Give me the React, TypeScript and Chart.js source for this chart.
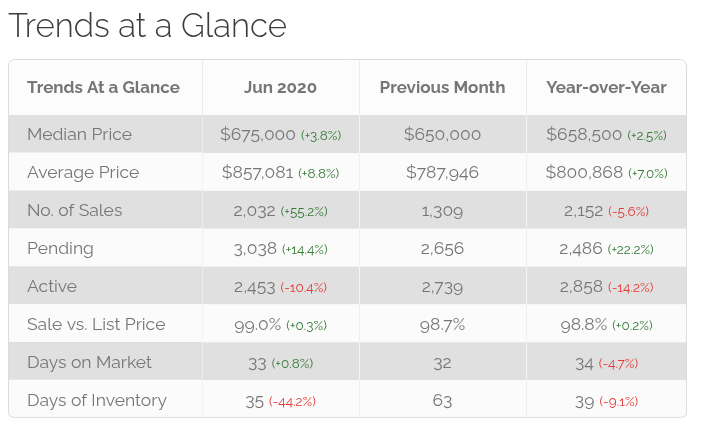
import React, { useEffect, useRef } from 'react';
import { Chart, registerables } from 'chart.js';

Chart.register(...registerables);

// ---- data ----
const titleText = 'Trends at a Glance';
const headerLabel = 'Trends At a Glance';
const columnLabels = ['Jun 2020', 'Previous Month', 'Year-over-Year'];
const rowLabels = [
  'Median Price',
  'Average Price',
  'No. of Sales',
  'Pending',
  'Active',
  'Sale vs. List Price',
  'Days on Market',
  'Days of Inventory',
];
const junValues = ['$675,000', '$857,081', '2,032', '3,038', '2,453', '99.0%', '33', '35'];
const junChanges = ['+3.8%', '+8.8%', '+55.2%', '+14.4%', '-10.4%', '+0.3%', '+0.8%', '-44.2%'];
const prevValues = ['$650,000', '$787,946', '1,309', '2,656', '2,739', '98.7%', '32', '63'];
const yoyValues = ['$658,500', '$800,868', '2,152', '2,486', '2,858', '98.8%', '34', '39'];
const yoyChanges = ['+2.5%', '+7.0%', '-5.6%', '+22.2%', '-14.2%', '+0.2%', '-4.7%', '-9.1%'];

// ---- layout / style ----
const COL_WIDTHS = [194, 157, 167, 161];
const FONT = "Raleway, Lato, 'Open Sans', sans-serif";
const TEXT = '#767676';
const GREEN = '#357a35';
const RED = '#e53935';
const ROW_DARK = '#e0e0e0';
const ROW_LIGHT = '#fbfbfb';
const BOX_TOP = 51;
const CANVAS_W = 687;
const CANVAS_H = 421;
const VAL_SIZE = 17.5;
const CHG_SIZE = 13.5;
const TITLE_SIZE = 33;

const columnValues = [null, junValues, prevValues, yoyValues];
const columnChanges = [null, junChanges, null, yoyChanges];

function roundRect(ctx: CanvasRenderingContext2D, x: number, y: number, w: number, h: number, r: number) {
  ctx.beginPath();
  ctx.moveTo(x + r, y);
  ctx.lineTo(x + w - r, y);
  ctx.arcTo(x + w, y, x + w, y + r, r);
  ctx.lineTo(x + w, y + h - r);
  ctx.arcTo(x + w, y + h, x + w - r, y + h, r);
  ctx.lineTo(x + r, y + h);
  ctx.arcTo(x, y + h, x, y + h - r, r);
  ctx.lineTo(x, y + r);
  ctx.arcTo(x, y, x + r, y, r);
  ctx.closePath();
}

const tablePlugin = {
  id: 'tablePlugin',
  beforeDatasetsDraw(chart: any) {
    const { ctx, chartArea } = chart;
    ctx.save();
    roundRect(ctx, chartArea.left + 0.5, BOX_TOP + 0.5, chartArea.right - chartArea.left - 1, chartArea.bottom - BOX_TOP - 1, 6);
    ctx.fillStyle = '#fcfcfc';
    ctx.fill();
    ctx.restore();
  },
  afterDatasetsDraw(chart: any) {
    const { ctx, chartArea, scales } = chart;
    const xs = scales.x;
    ctx.save();
    // header row
    let acc = 0;
    const bounds: number[] = [xs.getPixelForValue(0)];
    COL_WIDTHS.forEach((w) => {
      acc += w;
      bounds.push(xs.getPixelForValue(acc));
    });
    ctx.fillStyle = '#ececec';
    for (let j = 1; j < COL_WIDTHS.length; j++) {
      ctx.fillRect(Math.round(bounds[j]), BOX_TOP + 1, 1, chartArea.top - BOX_TOP - 1);
    }
    const headerMid = (BOX_TOP + chartArea.top) / 2;
    ctx.fillStyle = TEXT;
    ctx.font = `700 17px ${FONT}`;
    ctx.textBaseline = 'alphabetic';
    ctx.textAlign = 'left';
    ctx.fillText(headerLabel, bounds[0] + 19, headerMid + 6);
    ctx.textAlign = 'center';
    columnLabels.forEach((lab, k) => {
      ctx.fillText(lab, (bounds[k + 1] + bounds[k + 2]) / 2, headerMid + 6);
    });

    // cells
    for (let j = 0; j < COL_WIDTHS.length; j++) {
      const meta = chart.getDatasetMeta(j);
      meta.data.forEach((el: any, i: number) => {
        const left = Math.min(el.x, el.base);
        const right = Math.max(el.x, el.base);
        const base = el.y + 6.5;
        ctx.textAlign = 'left';
        if (j === 0) {
          ctx.font = `400 ${VAL_SIZE}px ${FONT}`;
          ctx.fillStyle = TEXT;
          ctx.fillText(rowLabels[i], left + 19, base);
          return;
        }
        const value = (columnValues[j] as string[])[i];
        const chg = columnChanges[j] ? (columnChanges[j] as string[])[i] : '';
        ctx.font = `400 ${VAL_SIZE}px ${FONT}`;
        const w1 = ctx.measureText(value).width;
        let w2 = 0;
        const chgText = chg ? `(${chg})` : '';
        if (chg) {
          ctx.font = `400 ${CHG_SIZE}px ${FONT}`;
          w2 = ctx.measureText(chgText).width + 5;
        }
        const start = (left + right) / 2 - (w1 + w2) / 2;
        ctx.font = `400 ${VAL_SIZE}px ${FONT}`;
        ctx.fillStyle = TEXT;
        ctx.fillText(value, start, base);
        if (chg) {
          ctx.font = `400 ${CHG_SIZE}px ${FONT}`;
          ctx.fillStyle = chg.startsWith('-') ? RED : GREEN;
          ctx.fillText(chgText, start + w1 + 5, base);
        }
      });
    }

    // box border
    roundRect(ctx, chartArea.left + 0.5, BOX_TOP + 0.5, chartArea.right - chartArea.left - 1, chartArea.bottom - BOX_TOP - 1, 6);
    ctx.strokeStyle = '#dcdcdc';
    ctx.lineWidth = 1;
    ctx.stroke();
    ctx.restore();
  },
};

export default function App() {
  const ref = useRef<HTMLCanvasElement | null>(null);

  useEffect(() => {
    if (!ref.current) return;
    let acc = 0;
    const datasets = COL_WIDTHS.map((w, j) => {
      const start = acc;
      acc += w;
      return {
        label: j === 0 ? headerLabel : columnLabels[j - 1],
        data: rowLabels.map(() => [start, start + w]),
        backgroundColor: rowLabels.map((_, i) => (i % 2 === 0 ? ROW_DARK : ROW_LIGHT)),
        borderColor: rowLabels.map((_, i) => (i % 2 === 0 ? '#ffffff' : '#e8e8e8')),
        borderWidth: j === 0 ? 0 : { left: 1, right: 0, top: 0, bottom: 0 },
        borderSkipped: false,
        barPercentage: 1,
        categoryPercentage: 1,
        grouped: false,
      };
    });
    const total = acc;
    const chart = new Chart(ref.current, {
      type: 'bar',
      data: { labels: rowLabels, datasets: datasets as any },
      options: {
        indexAxis: 'y',
        responsive: false,
        animation: false,
        events: [],
        layout: { padding: { left: 0, right: 8, top: 0, bottom: 11 } },
        scales: {
          x: { type: 'linear', min: 0, max: total, display: false },
          y: { type: 'category', display: false },
        },
        plugins: {
          legend: { display: false },
          tooltip: { enabled: false },
          title: {
            display: true,
            text: titleText,
            align: 'start',
            color: '#3d3d3d',
            font: { family: FONT, size: TITLE_SIZE, weight: '300' as any, lineHeight: 1.2 },
            padding: { top: -1, bottom: 107 - TITLE_SIZE * 1.2 + 1 },
          },
        },
      },
      plugins: [tablePlugin],
    });
    return () => chart.destroy();
  }, []);

  return <canvas ref={ref} width={CANVAS_W} height={CANVAS_H} style={{ display: 'block' }} />;
}
